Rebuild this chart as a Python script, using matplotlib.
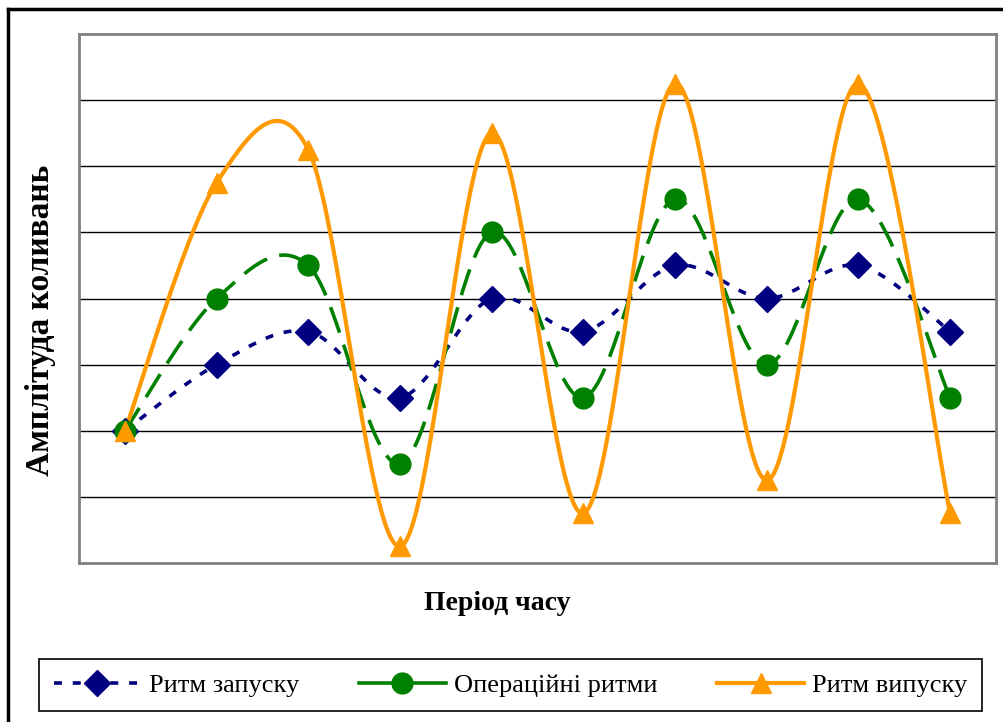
import numpy as np
import matplotlib
matplotlib.use("Agg")
import matplotlib.pyplot as plt
from matplotlib.lines import Line2D

plt.rcParams['font.family'] = ['Liberation Serif', 'DejaVu Serif']

# data (category index 1..10, values in grid units)
periods = np.arange(1, 11)
launch = [2, 3, 3.5, 2.5, 4, 3.5, 4.5, 4, 4.5, 3.5]
operations = [2, 4, 4.5, 1.5, 5, 2.5, 5.5, 3, 5.5, 2.5]
release = [2, 5.75, 6.25, 0.25, 6.5, 0.75, 7.25, 1.25, 7.25, 0.75]
names = ['Ритм запуску', 'Операційні ритми', 'Ритм випуску']


def smooth(x, y, n=40):
    # bezier smoothing between the points, like spreadsheet "smoothed line"
    p = np.c_[np.asarray(x, float), np.asarray(y, float)]
    xs, ys = [], []
    for i in range(len(p) - 1):
        p0 = p[max(i - 1, 0)]
        p1, p2 = p[i], p[i + 1]
        p3 = p[min(i + 2, len(p) - 1)]
        c1 = p1 + (p2 - p0) / 6.0
        c2 = p2 - (p3 - p1) / 6.0
        t = np.linspace(0, 1, n)[:, None]
        b = ((1 - t) ** 3 * p1 + 3 * (1 - t) ** 2 * t * c1 +
             3 * (1 - t) * t ** 2 * c2 + t ** 3 * p2)
        xs.extend(b[:, 0])
        ys.extend(b[:, 1])
    return np.array(xs), np.array(ys)


W, H = 1004, 722
fig = plt.figure(figsize=(W / 100, H / 100), dpi=100)
ax = fig.add_axes([79 / W, 1 - 563 / H, 917 / W, 529 / H])

ax.set_xlim(0.5, 10.5)
ax.set_ylim(0, 8)
for g in range(1, 8):
    ax.axhline(g, color='black', lw=1.0, zorder=0)

styles = [
    dict(color='#000080', marker='D', ms=13, lw=2.6, dashes=(2.2, 3.0)),
    dict(color='#008000', marker='o', ms=15, lw=2.6, dashes=(7.5, 3.5)),
    dict(color='#FF9900', marker='^', ms=15, lw=3.0, dashes=None),
]
handles = []
for vals, st in zip([launch, operations, release], styles):
    sx, sy = smooth(periods, vals)
    ln, = ax.plot(sx, sy, color=st['color'], lw=st['lw'], zorder=2)
    if st['dashes'] is not None:
        ln.set_dashes(st['dashes'])
    ax.plot(periods, vals, ls='none', marker=st['marker'], ms=st['ms'],
            color=st['color'], mec=st['color'], zorder=3)
    h = Line2D([], [], color=st['color'], lw=st['lw'], marker=st['marker'],
               ms=st['ms'], mec=st['color'])
    if st['dashes'] is not None and st['marker'] == 'D':
        h.set_dashes(st['dashes'])
    handles.append(h)

ax.set_xticks([])
ax.set_yticks([])
for s in ax.spines.values():
    s.set_color('#808080')
    s.set_linewidth(2.0)

fig.text(497 / W, 1 - 603 / H, 'Період часу', ha='center', va='center',
         fontsize=20, fontweight='bold')
fig.text(41 / W, 1 - 320 / H, 'Амплітуда коливань', ha='center', va='center',
         rotation=90, fontsize=24, fontweight='bold')

leg = fig.legend(handles, names, loc='center', ncol=3, mode='expand',
                 bbox_to_anchor=(39 / W, 1 - 715 / H, 943 / W, 60 / H),
                 borderaxespad=0, fontsize=19, handlelength=3.3,
                 handletextpad=0.3, fancybox=False, edgecolor='black',
                 framealpha=1, borderpad=0.55, columnspacing=2.0)
leg.get_frame().set_linewidth(1.2)

# outer frame of the chart (right/bottom fall outside the picture)
fig.add_artist(Line2D([8 / W, 8 / W], [0, 1 - 9 / H], color='black', lw=2.5,
                      transform=fig.transFigure))
fig.add_artist(Line2D([8 / W, 1], [1 - 9 / H, 1 - 9 / H], color='black', lw=2.5,
                      transform=fig.transFigure))

fig.savefig('out.png', dpi=100)
